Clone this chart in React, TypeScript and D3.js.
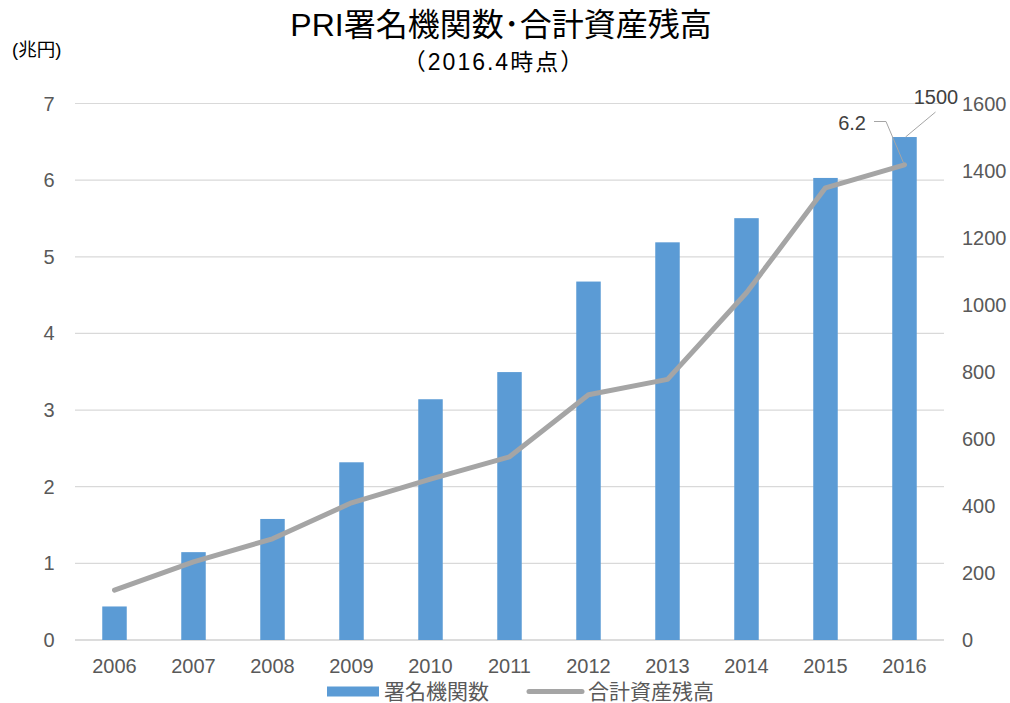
import React from "react";
import * as d3 from "d3";

const years = ["2006","2007","2008","2009","2010","2011","2012","2013","2014","2015","2016"];
const signatories = [100, 262, 361, 530, 718, 799, 1069, 1186, 1258, 1378, 1500];
const assets = [0.65, 1.02, 1.32, 1.79, 2.1, 2.39, 3.2, 3.4, 4.53, 5.9, 6.2];
const leftTicks = [0, 1, 2, 3, 4, 5, 6, 7];
const rightTicks = [0, 200, 400, 600, 800, 1000, 1200, 1400, 1600];

const W = 1010, H = 703;
const FONT = "'Liberation Sans', Arial, 'Noto Sans CJK JP', sans-serif";
const JFONT = "'Liberation Sans', 'Noto Sans CJK JP', sans-serif";

export default function App() {
  const left = 75, right = 944, top = 103.5, bottom = 640;
  const x = d3.scaleBand().domain(years).range([left, right]).paddingInner(0.69).paddingOuter(0.345);
  const yL = d3.scaleLinear().domain([0, 7]).range([bottom, top]);
  const yR = d3.scaleLinear().domain([0, 1600]).range([bottom, top]);
  const cx = (d: string) => (x(d) as number) + x.bandwidth() / 2;
  const line = d3.line<number>().x((_, i) => cx(years[i])).y(d => yL(d));
  const last = years.length - 1;
  const barTopX = cx(years[last]);
  const barTopY = yR(signatories[last]);
  const lineEndY = yL(assets[last]);
  return (
    <svg width={W} height={H} style={{ position: "absolute", left: 0, top: 0, background: "#fff" }}>
      <rect width={W} height={H} fill="#fff" />
      <text x={501} y={36} textAnchor="middle" fontFamily={JFONT} fontSize={32} fill="#000">PRI署名機関数･合計資産残高</text>
      <text x={494} y={70} textAnchor="middle" fontFamily={JFONT} fontSize={23} letterSpacing={2} fill="#000">（2016.4時点）</text>
      <text x={12} y={56} fontFamily={JFONT} fontSize={18.5} fill="#000">(兆円)</text>
      {leftTicks.map(t => (
        <line key={"g" + t} x1={left} x2={right} y1={yL(t)} y2={yL(t)} stroke={t === 0 ? "#D0D0D0" : "#D9D9D9"} strokeWidth={t === 0 ? 1.5 : 1.2} />
      ))}
      {leftTicks.map(t => (
        <text key={"l" + t} x={49} y={yL(t) + 7} textAnchor="middle" fontFamily={FONT} fontSize={20} fill="#595959">{t}</text>
      ))}
      {rightTicks.map(t => (
        <text key={"r" + t} x={962} y={yR(t) + 7} textAnchor="start" fontFamily={FONT} fontSize={20} fill="#595959">{t}</text>
      ))}
      {years.map(y => (
        <text key={"x" + y} x={cx(y)} y={673} textAnchor="middle" fontFamily={FONT} fontSize={20} fill="#595959">{y}</text>
      ))}
      {signatories.map((v, i) => (
        <rect key={"b" + i} x={x(years[i])} y={yR(v)} width={x.bandwidth()} height={bottom - yR(v)} fill="#5B9BD5" />
      ))}
      <path d={line(assets) || ""} fill="none" stroke="#A5A5A5" strokeWidth={5} strokeLinejoin="round" strokeLinecap="round" />
      <polyline points={`${barTopX + 1},${barTopY} ${barTopX + 31},${barTopY - 25}`} fill="none" stroke="#A5A5A5" strokeWidth={1} />
      <text x={936} y={104} textAnchor="middle" fontFamily={FONT} fontSize={20} fill="#404040">{signatories[last]}</text>
      <polyline points={`${874},${121.5} ${886},${121.5} ${barTopX - 1},${lineEndY - 2}`} fill="none" stroke="#A5A5A5" strokeWidth={1} />
      <text x={866} y={130} textAnchor="end" fontFamily={FONT} fontSize={20} fill="#404040">{assets[last]}</text>
      <rect x={327} y={686.5} width={52} height={10} fill="#5B9BD5" />
      <text x={384} y={699} fontFamily={JFONT} fontSize={21} fill="#595959">署名機関数</text>
      <line x1={529} x2={582} y1={691.5} y2={691.5} stroke="#A5A5A5" strokeWidth={5} strokeLinecap="round" />
      <text x={588} y={699} fontFamily={JFONT} fontSize={21} fill="#595959">合計資産残高</text>
    </svg>
  );
}
